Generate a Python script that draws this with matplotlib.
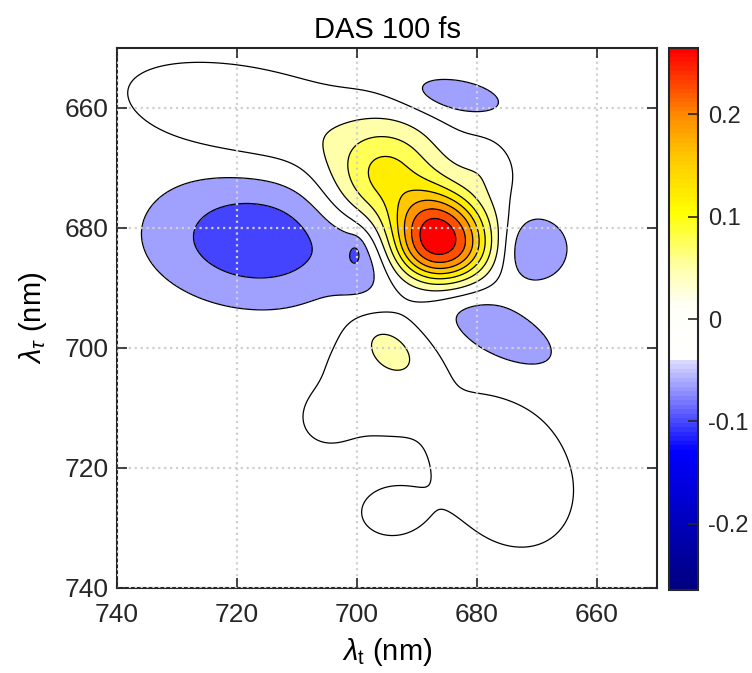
import numpy as np
import matplotlib
matplotlib.use("Agg")
import matplotlib.pyplot as plt
from matplotlib.colors import LinearSegmentedColormap, Normalize
from matplotlib.cm import ScalarMappable

plt.rcParams['font.family'] = ['Liberation Sans', 'DejaVu Sans']
plt.rcParams['mathtext.fontset'] = 'custom'
plt.rcParams['mathtext.rm'] = 'Liberation Sans'
plt.rcParams['mathtext.it'] = 'Liberation Sans:italic'
plt.rcParams['axes.unicode_minus'] = False

# spectral components: centre (lambda_t, lambda_tau) in nm,
# amplitude, half widths on each side of the centre (nm), axis angle (deg), shape exponent
names = ['peak', 'upper lobe', 'shoulder', 'ridge', 'low lobe', 'low bulge', 'low tail',
         'low foot', 'low spot', 'bleach', 'bleach ext', 'bleach dot', 'top', 'right',
         'low right']
comp_x = [686.0, 695.0, 678.5, 716.0, 697.0, 705.5, 675.5,
          694.5, 694.3, 717.0, 699.0, 700.2, 683.5, 670.5,
          676.0]
comp_y = [682.5, 672.0, 670.0, 662.0, 704.0, 712.0, 720.5,
          727.5, 700.0, 682.0, 685.0, 683.9, 658.0, 683.5,
          697.5]
comp_amp = [0.24, 0.12, 0.025, 0.038, 0.027, 0.015, 0.028,
            0.02, 0.034, -0.08, -0.035, -0.02, -0.042, -0.054,
            -0.047]
comp_w_pos_u = [5.8, 8.0, 3.5, 15.0, 7.5, 3.5, 10.5,
                4.5, 5.0, 11.6, 5.0, 1.6, 6.2, 3.8,
                7.5]
comp_w_neg_u = [6.2, 6.5, 3.5, 15.0, 7.5, 3.5, 10.5,
                4.5, 5.0, 11.6, 5.0, 1.6, 6.2, 3.8,
                7.5]
comp_w_pos_v = [5.0, 6.5, 3.0, 5.5, 6.5, 3.5, 8.0,
                3.5, 2.8, 7.1, 3.5, 0.9, 2.3, 4.0,
                3.3]
comp_w_neg_v = [6.0, 6.5, 3.0, 5.5, 6.5, 3.5, 8.0,
                3.5, 2.8, 7.1, 3.5, 0.9, 2.3, 4.0,
                3.3]
comp_ang = [0, 135, 120, 167, 90, 0, 125,
            0, 140, 175, 90, 90, 170, 90,
            153]
comp_p = [2.4, 2, 2, 2, 2, 2, 2,
          2, 2, 2, 2, 2, 2, 2,
          2]
background = -0.012

levels = [-1, -0.066, -0.033, 0, 0.033, 0.066, 0.1, 0.133, 0.166, 0.2, 0.233, 1]
band_colors = ['#4444ff', '#a0a0ff', 'white', 'white', '#ffffaa', '#ffff55',
               '#ffee00', '#ffc800', '#ff9600', '#ff5000', '#ff0000']

x = np.linspace(650, 740, 451)
y = np.linspace(650, 740, 451)
X, Y = np.meshgrid(x, y)
Z = np.full_like(X, background)
for k in range(len(names)):
    t = np.deg2rad(comp_ang[k])
    u = (X - comp_x[k]) * np.cos(t) + (Y - comp_y[k]) * np.sin(t)
    v = -(X - comp_x[k]) * np.sin(t) + (Y - comp_y[k]) * np.cos(t)
    su = np.where(u > 0, comp_w_pos_u[k], comp_w_neg_u[k])
    sv = np.where(v > 0, comp_w_pos_v[k], comp_w_neg_v[k])
    rho = np.sqrt((u / su)**2 + (v / sv)**2)
    Z += comp_amp[k] * np.exp(-0.5 * rho**comp_p[k])

# colour map of the colour bar
cb_pos = [-0.265, -0.13, -0.0395, -0.039, 0.013, 0.05, 0.105, 0.16, 0.2, 0.23, 0.265]
cb_col = [(0, 0, 0.5), (0, 0, 1), (0.88, 0.88, 1), (1, 1, 1), (1, 1, 0.97), (1, 1, 0.67),
          (1, 1, 0), (1, 0.78, 0), (1, 0.55, 0), (1, 0.28, 0), (1, 0, 0)]
vmin, vmax = cb_pos[0], cb_pos[-1]
cmap = LinearSegmentedColormap.from_list(
    'das', [((p - vmin) / (vmax - vmin), c) for p, c in zip(cb_pos, cb_col)], N=120)

fig = plt.figure(figsize=(7.52, 6.73), dpi=100)
ax = fig.add_axes([117 / 752, 1 - 588 / 673, 540 / 752, 540 / 673])
ax.contourf(X, Y, Z, levels=levels, colors=band_colors)
ax.contour(X, Y, Z, levels=levels[1:-1], colors='k', linewidths=0.9, linestyles='solid')

ax.set_xlim(740, 650)
ax.set_ylim(740, 650)
ax.set_xticks([740, 720, 700, 680, 660])
ax.set_yticks([660, 680, 700, 720, 740])
ax.grid(True, linestyle=':', color='#d0d0d0', linewidth=1.6)
ax.set_axisbelow(False)
ax.tick_params(direction='in', top=True, right=True, length=7, width=1.2,
               labelsize=19, colors='#262626')
ax.tick_params(axis='x', pad=11)
ax.tick_params(axis='y', pad=6)
for s in ax.spines.values():
    s.set_linewidth(1.5)
    s.set_color('#262626')
ax.set_title('DAS 100 fs', fontsize=21, pad=7)
ax.set_xlabel(r'$\lambda_{\rm t}$ (nm)', fontsize=21, labelpad=6)
ax.set_ylabel(r'$\lambda_\tau$ (nm)', fontsize=21, labelpad=11)

cax = fig.add_axes([669 / 752, 1 - 590 / 673, 29 / 752, 542 / 673])
cb = fig.colorbar(ScalarMappable(norm=Normalize(vmin, vmax), cmap=cmap), cax=cax)
cb.set_ticks([-0.2, -0.1, 0, 0.1, 0.2])
cb.set_ticklabels(['-0.2', '-0.1', '0', '0.1', '0.2'])
cb.ax.tick_params(direction='in', length=7, width=1.2, labelsize=17, colors='#262626', pad=7)
cb.outline.set_linewidth(1.5)
cb.outline.set_edgecolor('#262626')

fig.savefig('out.png', dpi=100)
